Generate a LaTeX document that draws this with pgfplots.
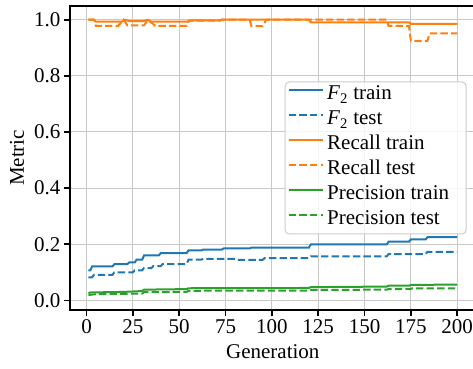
\documentclass[border=0pt]{standalone}
\usepackage{fontspec}
\setmainfont{Liberation Serif}
\usepackage{pgfplots}
\pgfplotsset{compat=1.18}
\definecolor{tabblue}{HTML}{1F77B4}
\definecolor{taborange}{HTML}{FF7F0E}
\definecolor{tabgreen}{HTML}{2CA02C}
\definecolor{gridgray}{RGB}{200,200,200}
\definecolor{legframe}{RGB}{204,204,204}
\begin{document}
\begin{tikzpicture}[font=\fontsize{21bp}{25bp}\selectfont]
\clip (-70bp,-59bp) rectangle (403bp,310bp);
\begin{axis}[
  scale only axis, width=405.6bp, height=304bp,
  xmin=-8.95, xmax=209.95, ymin=-0.0345, ymax=1.049,
  xtick={0,25,50,75,100,125,150,175,200},
  ytick={0,0.2,0.4,0.6,0.8,1.0},
  /pgf/number format/assume math mode=true,
  yticklabel style={/pgf/number format/fixed, /pgf/number format/fixed zerofill, /pgf/number format/precision=1},
  tick label style={font=\fontsize{21bp}{25bp}\selectfont},
  tick pos=left, tick align=outside, major tick length=6bp,
  every tick/.style={black, line width=1.6bp},
  axis line style={black, line width=2.2bp},
  grid=major, major grid style={gridgray, line width=1bp},
  xlabel={Generation}, ylabel={Metric},
  xlabel style={at={(axis description cs:0.5,-0.138)}, anchor=center},
  ylabel style={at={(axis description cs:-0.1307,0.5)}, anchor=center},
  legend style={at={(axis description cs:1,0.5)}, xshift=-9bp, anchor=east,
    draw=legframe, line width=1bp, rounded corners=4bp, fill=white, fill opacity=0.8, text opacity=1,
    inner xsep=2.5bp, inner ysep=1bp, row sep=0bp,
    nodes={inner xsep=3.5bp, inner ysep=1.5bp, text height=15.5bp, text depth=6.5bp},
    font=\fontsize{21bp}{25bp}\selectfont},
  legend cell align=left,
  legend image code/.code={\draw[#1, rounded corners=0pt] (0bp,5bp) -- (34bp,5bp);},
  every axis plot/.append style={line width=2bp},
]
\addplot[tabblue, solid] coordinates {
(1,0.107) (2,0.107) (3,0.121) (14,0.121) (15,0.129) (22,0.129) (23,0.135) (26,0.135) (27,0.145) (30,0.145) (31,0.160) (39,0.160) (40,0.168) (54,0.168) (55,0.178) (62,0.178) (63,0.181) (73,0.181) (74,0.185) (88,0.185) (89,0.188) (120,0.188) (121,0.199) (162,0.199) (163,0.209) (174,0.209) (175,0.217) (183,0.217) (184,0.225) (200,0.225)};
\addlegendentry{\textit{F}\textsubscript{2} train}
\addplot[tabblue, dash pattern=on 7.4bp off 3.2bp] coordinates {
(1,0.082) (3,0.082) (4,0.091) (14,0.091) (15,0.100) (25,0.100) (26,0.107) (30,0.107) (31,0.115) (35,0.115) (36,0.122) (40,0.122) (41,0.129) (54,0.129) (55,0.145) (62,0.145) (63,0.148) (80,0.148) (81,0.144) (95,0.144) (96,0.150) (120,0.150) (121,0.157) (162,0.157) (163,0.165) (183,0.165) (184,0.173) (200,0.173)};
\addlegendentry{\textit{F}\textsubscript{2} test}
\addplot[taborange, solid] coordinates {
(1,1.0) (4,1.0) (5,0.993) (19,0.993) (21,1.0) (23,0.995) (31,0.995) (33,1.0) (35,0.993) (55,0.993) (56,0.998) (72,0.998) (73,1.0) (120,1.0) (121,0.991) (174,0.991) (175,0.985) (200,0.985)};
\addlegendentry{Recall train}
\addplot[taborange, dash pattern=on 7.4bp off 3.2bp] coordinates {
(1,1.0) (4,1.0) (5,0.978) (17,0.978) (20,1.0) (22,0.98) (31,0.98) (33,0.998) (36,0.985) (37,0.978) (54,0.978) (55,0.997) (72,0.997) (73,1.0) (88,1.0) (89,0.977) (95,0.977) (97,1.0) (162,1.0) (163,0.978) (174,0.978) (175,0.925) (184,0.925) (185,0.951) (200,0.951)};
\addlegendentry{Recall test}
\addplot[tabgreen, solid] coordinates {
(1,0.025) (2,0.028) (20,0.030) (30,0.033) (31,0.038) (54,0.040) (55,0.043) (120,0.044) (121,0.047) (162,0.049) (163,0.052) (174,0.052) (175,0.055) (200,0.056)};
\addlegendentry{Precision train\hspace*{11bp}}
\addplot[tabgreen, dash pattern=on 7.4bp off 3.2bp] coordinates {
(1,0.019) (5,0.022) (30,0.024) (31,0.029) (54,0.030) (55,0.034) (120,0.035) (121,0.037) (162,0.038) (163,0.040) (175,0.041) (176,0.043) (200,0.043)};
\addlegendentry{Precision test}
\end{axis}
\end{tikzpicture}
\end{document}
